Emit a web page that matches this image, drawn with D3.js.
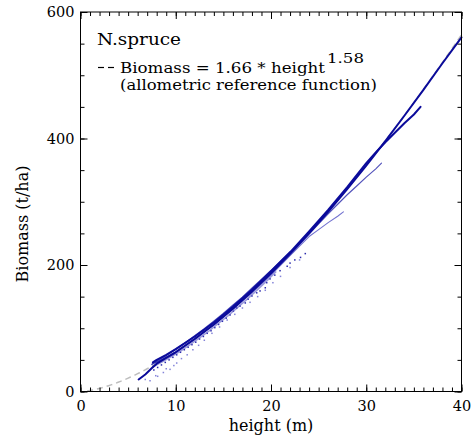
<!DOCTYPE html>
<html>
<head>
<meta charset="utf-8">
<script src="https://cdn.jsdelivr.net/npm/d3@7"></script>
<style>
  body { margin: 0; background: #fff; }
  svg { display: block; }
</style>
</head>
<body>
<svg id="chart" width="472" height="436"></svg>
<script>
// Axis ticks
const xMajorTicks = [0, 10, 20, 30, 40];
const xMinorTicks = d3.range(0, 41, 1);
const yMajorTicks = [0, 200, 400, 600];
const yMinorTicks = d3.range(0, 601, 50);

// Allometric reference function: Biomass = a * height^b
const refCoef = 1.66;
const refExp = 1.58;

// Stand trajectories (height in m, biomass in t/ha)
const standA_h = [6.1, 6.8, 7.5, 8, 9, 10, 12, 14, 16, 18, 20, 22, 24, 26, 28, 30, 32, 34, 36, 38, 40];
const standA_b = [19, 27, 37, 44, 53, 62, 83, 106, 131, 158, 187, 218, 250, 284, 320, 357, 396, 436, 477, 519, 560];

const standB_h = [7.6, 8, 9, 10, 12, 14, 16, 18, 20, 22, 24, 26, 28, 30, 31, 32, 33, 34, 35, 35.7];
const standB_b = [46, 50, 58, 67, 87, 109, 134, 161, 190, 220, 253, 287, 323, 361, 378, 394, 409, 424, 438, 450];

const standC_h = [7.8, 9, 10, 12, 14, 16, 18, 20, 22, 24, 25, 26, 27, 28, 29, 30, 31, 31.6];
const standC_b = [45, 54, 63, 84, 106, 131, 158, 186, 216, 249, 265, 281, 296, 311, 325, 339, 352, 361];

const standD_h = [8, 9, 10, 12, 14, 16, 18, 20, 22, 23, 24, 25, 26, 27, 27.6];
const standD_b = [46, 54, 62, 83, 105, 130, 156, 184, 215, 230, 245, 256, 267, 277, 284];

const standG_h = [7.5, 8, 9, 10, 11, 12, 13, 14, 15, 16, 17, 18, 19, 20, 21, 22];
const standG_b = [43, 48, 57, 67, 77, 88, 99, 111, 123, 136, 149, 163, 177, 191, 206, 221];

const standH_h = [7.6, 8.5, 9.5, 10.5, 11.5, 12.5, 13.5, 14.5, 15.5, 16.5, 17.5, 18.5, 19.5, 20.5];
const standH_b = [39, 46, 55, 64, 74, 85, 96, 108, 120, 133, 146, 160, 174, 189];

// Single-plot observations drawn as dots
const plotsE_h = [7.7, 8.1, 8.5, 8.9, 9.3, 9.7, 10.1, 10.5, 10.9, 11.3, 11.7, 12.1, 12.5, 12.9, 13.3, 13.7, 14.1, 14.5, 14.9, 15.3, 15.7, 16.05, 16.4, 16.75, 17.3, 17.6, 18.0, 18.5, 18.85, 19.4, 19.55, 19.9, 20.4, 20.95, 21.7, 22.0, 22.5, 23.1, 23.6];
const plotsE_b = [34, 38, 42, 46, 50, 54, 58, 62, 66, 70, 74, 78, 83, 87, 92, 96, 101, 106, 111, 116, 121, 127, 132, 135, 140, 146, 151, 156, 159, 164, 172, 178, 184, 191, 198, 203, 208, 212, 218];

const plotsF_h = [6.8, 7.3, 7.9, 8.1, 8.7, 9.0, 9.4, 9.8, 10.1, 10.6, 11.2, 11.8, 12.4, 13.0, 13.8, 14.6, 15.4, 16.2, 17.0, 17.8, 18.6, 19.4, 20.2, 21.0, 22.0, 23.0];
const plotsF_b = [19, 17, 25, 24, 30, 36, 35, 41, 45, 52, 58, 66, 73, 81, 92, 102, 113, 122, 132, 141, 150, 160, 172, 182, 196, 208];

const FONT = '"DejaVu Serif", "Liberation Serif", serif';

const svg = d3.select("#chart");
const x = d3.scaleLinear().domain([0, 40]).range([80.5, 461.5]);
const y = d3.scaleLinear().domain([0, 600]).range([391.5, 12]);
const [x0, x1] = x.range();
const [y0, y1] = y.range();

// Reference curve
const refH = d3.range(0.7, 40.01, 0.25);
const refLine = d3.line().x(d => x(d)).y(d => y(refCoef * Math.pow(d, refExp)));
svg.append("path")
  .attr("d", refLine(refH))
  .attr("fill", "none")
  .attr("stroke", "#bdbdbd")
  .attr("stroke-width", 1.5)
  .attr("stroke-dasharray", "6,4");

const trajLine = d3.line().x(d => x(d[0])).y(d => y(d[1]));
const zip = (a, b) => a.map((v, i) => [v, b[i]]);

const stands = [
  { h: standH_h, b: standH_b, color: "#5a5ac4", width: 1.6, op: 0.6 },
  { h: standD_h, b: standD_b, color: "#6a6acc", width: 1.1, op: 0.95 },
  { h: standC_h, b: standC_b, color: "#4040b4", width: 1.2, op: 0.9 },
  { h: standG_h, b: standG_b, color: "#1a1aa8", width: 1.6, op: 0.8 },
  { h: standB_h, b: standB_b, color: "#0c0c9c", width: 2, op: 1 },
  { h: standA_h, b: standA_b, color: "#0a0a9a", width: 2, op: 1 }
];

const dotSets = [
  { h: plotsF_h, b: plotsF_b, color: "#8484d8" },
  { h: plotsE_h, b: plotsE_b, color: "#2a2aac" }
];

dotSets.forEach(s => {
  svg.append("g").selectAll("rect")
    .data(zip(s.h, s.b))
    .join("rect")
    .attr("x", d => x(d[0]) - 0.75)
    .attr("y", d => y(d[1]) - 0.75)
    .attr("width", 1.5)
    .attr("height", 1.5)
    .attr("fill", s.color);
});

stands.forEach(s => {
  svg.append("path")
    .attr("d", trajLine(zip(s.h, s.b)))
    .attr("fill", "none")
    .attr("stroke", s.color)
    .attr("stroke-width", s.width)
    .attr("stroke-opacity", s.op)
    .attr("stroke-linejoin", "round")
    .attr("stroke-linecap", "round");
});

// Axes: ticks point inward on all four sides
function styleAxis(g) {
  g.attr("font-family", null).attr("font-size", null);
  g.select(".domain").remove();
  g.selectAll(".tick line").attr("stroke", "#000");
  g.selectAll("text")
    .style("font-family", FONT)
    .style("font-size", "14.5px")
    .attr("fill", "#000");
}

svg.append("g").attr("transform", `translate(0,${y0})`)
  .call(d3.axisBottom(x).tickValues(xMinorTicks).tickSize(-4).tickFormat(""))
  .call(styleAxis);
svg.append("g").attr("transform", `translate(0,${y0})`)
  .call(d3.axisBottom(x).tickValues(xMajorTicks).tickSize(-7).tickPadding(9).tickFormat(d3.format("d")))
  .call(styleAxis);
svg.append("g").attr("transform", `translate(0,${y1})`)
  .call(d3.axisTop(x).tickValues(xMinorTicks).tickSize(-4).tickFormat(""))
  .call(styleAxis);
svg.append("g").attr("transform", `translate(0,${y1})`)
  .call(d3.axisTop(x).tickValues(xMajorTicks).tickSize(-7).tickFormat(""))
  .call(styleAxis);

svg.append("g").attr("transform", `translate(${x0},0)`)
  .call(d3.axisLeft(y).tickValues(yMinorTicks).tickSize(-4).tickFormat(""))
  .call(styleAxis);
svg.append("g").attr("transform", `translate(${x0},0)`)
  .call(d3.axisLeft(y).tickValues(yMajorTicks).tickSize(-7).tickPadding(6).tickFormat(d3.format("d")))
  .call(styleAxis);
svg.append("g").attr("transform", `translate(${x1},0)`)
  .call(d3.axisRight(y).tickValues(yMinorTicks).tickSize(-4).tickFormat(""))
  .call(styleAxis);
svg.append("g").attr("transform", `translate(${x1},0)`)
  .call(d3.axisRight(y).tickValues(yMajorTicks).tickSize(-7).tickFormat(""))
  .call(styleAxis);

// Plot frame
svg.append("rect")
  .attr("x", x0).attr("y", y1)
  .attr("width", x1 - x0).attr("height", y0 - y1)
  .attr("fill", "none").attr("stroke", "#000").attr("stroke-width", 1);

// Axis titles
svg.append("text")
  .attr("x", (x0 + x1) / 2).attr("y", 431)
  .attr("text-anchor", "middle")
  .style("font-family", FONT)
  .style("font-size", "16px")
  .text("height (m)");
svg.append("text")
  .attr("transform", `translate(28,224) rotate(-90)`)
  .attr("text-anchor", "middle")
  .style("font-family", FONT)
  .style("font-size", "16px")
  .text("Biomass (t/ha)");

// Legend
const legend = svg.append("g").style("font-family", FONT);
legend.append("text").attr("x", 97).attr("y", 45)
  .style("font-size", "16px")
  .attr("textLength", 84).attr("lengthAdjust", "spacingAndGlyphs")
  .text("N.spruce");
legend.append("line").attr("x1", 98).attr("x2", 104).attr("y1", 67.5).attr("y2", 67.5)
  .attr("stroke", "#000").attr("stroke-width", 1.2);
legend.append("line").attr("x1", 108).attr("x2", 114).attr("y1", 67.5).attr("y2", 67.5)
  .attr("stroke", "#000").attr("stroke-width", 1.2);
legend.append("text").attr("x", 120).attr("y", 72.5)
  .style("font-size", "14px")
  .attr("textLength", 205).attr("lengthAdjust", "spacingAndGlyphs")
  .text("Biomass = " + refCoef.toFixed(2) + " * height");
legend.append("text").attr("x", 327).attr("y", 63)
  .style("font-size", "13.5px")
  .attr("textLength", 37).attr("lengthAdjust", "spacingAndGlyphs")
  .text(refExp.toFixed(2));
legend.append("text").attr("x", 120).attr("y", 89.5)
  .style("font-size", "14px")
  .attr("textLength", 257).attr("lengthAdjust", "spacingAndGlyphs")
  .text("(allometric reference function)");
</script>
</body>
</html>
